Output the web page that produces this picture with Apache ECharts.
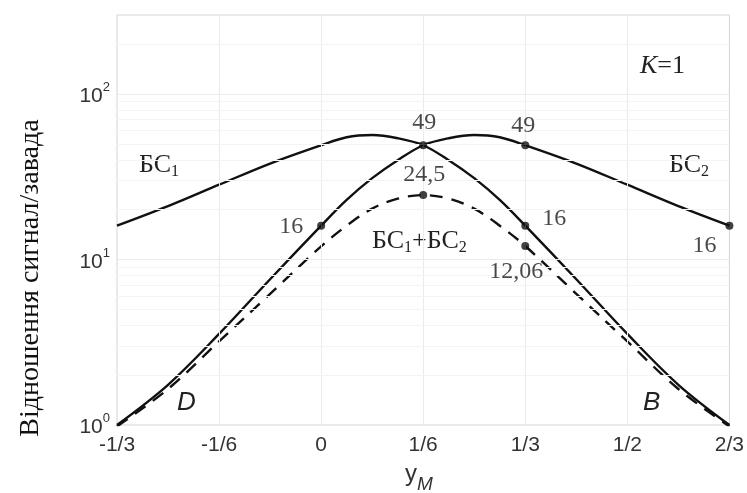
<!DOCTYPE html>
<html>
<head>
<meta charset="utf-8">
<script src="https://cdn.jsdelivr.net/npm/echarts@6/dist/echarts.min.js"></script>
<style>
  html, body { margin: 0; padding: 0; background: #fff; }
  #chart { width: 747px; height: 493px; }
</style>
</head>
<body>
<div id="chart"></div>
<script>
// x is counted in sixths: -2 -> -1/3, 0 -> 0, 4 -> 2/3
var xSixths = [-2, -1.5, -1, -0.5, 0, 0.25, 0.5, 0.75, 1, 1.25, 1.5, 1.75, 2, 2.5, 3, 3.5, 4];
var bs1 = [16, 21, 28.3, 38, 49, 54.8, 56.5, 54, 49, 39.8, 31, 22.9, 16, 7.6, 3.55, 1.75, 1.0];
var bs2 = [1.0, 1.75, 3.55, 7.6, 16, 22.9, 31, 39.8, 49, 54, 56.5, 54.8, 49, 38, 28.3, 21, 16];
var bsSum = [0.98, 1.65, 3.2, 6.2, 12, 16, 20.3, 23.3, 24.5, 23.3, 20.3, 16, 12.06, 6.2, 3.2, 1.65, 0.98];

var xTickLabels = { "-2": "-1/3", "-1": "-1/6", "0": "0", "1": "1/6", "2": "1/3", "3": "1/2", "4": "2/3" };
var xGrid = [-1, 0, 1, 2, 3];
var yGrid = [2, 3, 4, 5, 6, 7, 8, 9, 10, 20, 30, 40, 50, 60, 70, 80, 90, 100, 200];

// marked points
var markX = [0, 1, 2, 2, 4, 1, 2];
var markY = [16, 49, 49, 16, 16, 24.5, 12.06];
var markText = ["16", "49", "49", "16", "16", "24,5", "12,06"];

// label offsets for the marked points (px)
var markOffset = [[-30, 1], [1, -23], [-2, -20], [29, -7], [-25, 20], [1, -20], [-9, 26]];

var SERIF = '"Liberation Serif", "Times New Roman", serif';
var SANS = '"Liberation Sans", Arial, sans-serif';

function pairs(ys) {
  return xSixths.map(function (x, i) { return [x, ys[i]]; });
}

// main text + lowered index (subscript)
var subRich = {
  a: { fontSize: 26, fontFamily: SERIF, fill: "#222", lineHeight: 28, verticalAlign: "top" },
  s: { fontSize: 16, fontFamily: SERIF, fill: "#222", lineHeight: 28, verticalAlign: "bottom" }
};

var chart = echarts.init(document.getElementById("chart"), null, { renderer: "canvas" });

var lineStyle = { color: "#111", width: 2.4 };

var gridLines = xGrid.map(function (v) {
  return { xAxis: v, lineStyle: { color: "#ebebeb" } };
}).concat(yGrid.map(function (v) {
  var major = v === 10 || v === 100;
  return { yAxis: v, lineStyle: { color: major ? "#ebebeb" : "#f4f4f4" } };
}));

var option = {
  animation: false,
  backgroundColor: "#fff",
  grid: { left: 117, right: 15, top: 15, bottom: 68, show: true, borderColor: "#d4d4d4", borderWidth: 1 },
  xAxis: {
    type: "value",
    min: -2,
    max: 4,
    interval: 1,
    axisLine: { show: false, onZero: false },
    axisTick: { show: false },
    splitLine: { show: false },
    axisLabel: {
      margin: 10,
      color: "#333",
      fontSize: 21,
      fontFamily: SANS,
      formatter: function (v) { return xTickLabels[String(Math.round(v))] || ""; }
    }
  },
  yAxis: {
    type: "log",
    logBase: 10,
    min: 1,
    max: 300,
    axisLine: { show: false, onZero: false },
    axisTick: { show: false },
    splitLine: { show: false },
    axisLabel: {
      margin: 7,
      color: "#333",
      formatter: function (v) {
        var e = Math.log10(v);
        var r = Math.round(e);
        if (Math.abs(e - r) > 1e-6) return "";
        return "{b|10}{s|" + r + "}";
      },
      rich: {
        b: { fontSize: 21, fontFamily: SANS, color: "#333", lineHeight: 26, verticalAlign: "bottom" },
        s: { fontSize: 13, fontFamily: SANS, color: "#333", lineHeight: 14, verticalAlign: "top" }
      }
    }
  },
  series: [
    {
      name: "grid lines",
      type: "line",
      data: [],
      z: 0,
      silent: true,
      markLine: {
        silent: true,
        symbol: "none",
        label: { show: false },
        lineStyle: { width: 1, type: "solid" },
        data: gridLines
      }
    },
    { name: "БС1", type: "line", data: pairs(bs1), smooth: 0.35, symbol: "none", lineStyle: lineStyle },
    { name: "БС2", type: "line", data: pairs(bs2), smooth: 0.35, symbol: "none", lineStyle: lineStyle },
    {
      name: "БС1+БС2",
      type: "line",
      data: pairs(bsSum),
      smooth: 0.35,
      symbol: "none",
      lineStyle: { color: "#111", width: 2.4, type: [13, 9] }
    },
    {
      name: "points",
      type: "scatter",
      symbolSize: 8,
      itemStyle: { color: "#111" },
      z: 5,
      data: markX.map(function (x, i) {
        return {
          value: [x, markY[i]],
          label: {
            show: true,
            position: "inside",
            offset: markOffset[i],
            formatter: markText[i],
            color: "#1a1a1a",
            textBorderWidth: 0,
            fontSize: 24,
            fontFamily: SERIF
          }
        };
      })
    }
  ],
  graphic: [
    {
      type: "text", x: 31, y: 278, rotation: Math.PI / 2,
      style: { text: "Відношення сигнал/завада", font: "28px " + SERIF, fill: "#111", align: "center", verticalAlign: "middle" }
    },
    {
      type: "text", x: 405, y: 462,
      style: {
        text: "{a|y}{m|M}",
        rich: {
          a: { fontSize: 24, fontFamily: SANS, fill: "#333", lineHeight: 32, verticalAlign: "top" },
          m: { fontSize: 19, fontFamily: SANS, fontStyle: "italic", fill: "#333", lineHeight: 32, verticalAlign: "bottom" }
        }
      }
    },
    { type: "text", x: 139, y: 152, style: { text: "{a|БС}{s|1}", rich: subRich } },
    { type: "text", x: 669, y: 152, style: { text: "{a|БС}{s|2}", rich: subRich } },
    { type: "text", x: 372, y: 228, style: { text: "{a|БС}{s|1}{a|+БС}{s|2}", rich: subRich } },
    {
      type: "text", x: 640, y: 52,
      style: {
        text: "{i|K}{n|=1}",
        rich: {
          i: { fontSize: 26, fontFamily: SERIF, fontStyle: "italic", fill: "#222", lineHeight: 28 },
          n: { fontSize: 26, fontFamily: SERIF, fill: "#222", lineHeight: 28 }
        }
      }
    },
    { type: "text", x: 177, y: 390, style: { text: "D", font: "italic 26px " + SANS, fill: "#222" } },
    { type: "text", x: 643, y: 390, style: { text: "B", font: "italic 26px " + SANS, fill: "#222" } }
  ]
};

chart.setOption(option);
</script>
</body>
</html>
